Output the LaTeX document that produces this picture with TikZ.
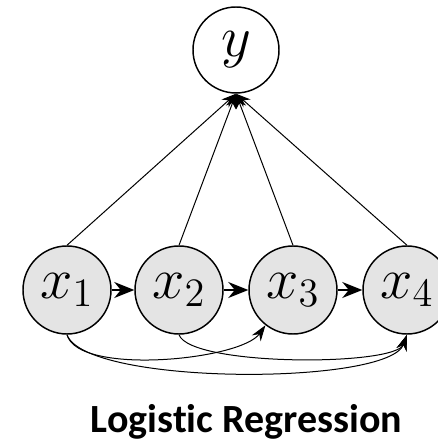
\documentclass[tikz,border=0pt]{standalone}
\usepackage{fontspec}
\newfontfamily\captionfont[Ligatures=NoCommon]{Carlito}
\usepackage{tikz}
\usetikzlibrary{positioning,shapes,arrows.meta}
\definecolor{nodegray}{HTML}{E4E4E4}
\newcommand{\varlabel}[1]{\scalebox{2.1}{$#1$}}
\tikzset{
    var/.style={circle, draw, line width=1.1pt, fill=nodegray, minimum size=66pt, inner sep=0pt, font=\huge},
    outvar/.style={circle, draw, line width=1.1pt, fill=white, minimum size=64.5pt, inner sep=0pt, font=\huge},
    to y/.style={line width=0.75pt, -{Stealth[length=11pt, width=8pt]}},
    chain/.style={line width=1pt, -{Stealth[length=15pt, width=12pt]}},
    skip/.style={line width=0.75pt, -{Stealth[length=12pt, width=8pt]}}
}

\begin{document}
\begin{tikzpicture}[x=0.75pt, y=0.75pt]
    \useasboundingbox (0,0) rectangle (438,442);
    \begin{scope}
    \clip (0,0) rectangle (438,442);

    \node[outvar] (y) at (236,392) {\varlabel{y}};
    \node[var] (x1) at (67,152) {\varlabel{x_1}};
    \node[var] (x2) at (179,152) {\varlabel{x_2}};
    \node[var] (x3) at (293,152) {\varlabel{x_3}};
    \node[var] (x4) at (407,152) {\varlabel{x_4}};

    \draw[to y] (x1.north) -- (y.south);
    \draw[to y] (x2.north) -- (y.south);
    \draw[to y] (x3.north) -- (y.south);
    \draw[to y] (x4.north) -- (y.south);

    \draw[chain] (x1) -- (x2);
    \draw[chain] (x2) -- (x3);
    \draw[chain] (x3) -- (x4);

    \draw[skip] (x1.south) to[out=-75, in=-125, looseness=0.55] (x3.-128);
    \draw[skip] (x1.south) to[out=-70, in=-110, looseness=0.41] (x4.south);
    \draw[skip] (x2.south) to[out=-70, in=-110, looseness=0.38] (x4.south);
    \end{scope}

    \node[font=\captionfont\bfseries\fontsize{30}{36}\selectfont, anchor=base] (title) at (246.5,9) {Logistic Regression};
\end{tikzpicture}
\end{document}
